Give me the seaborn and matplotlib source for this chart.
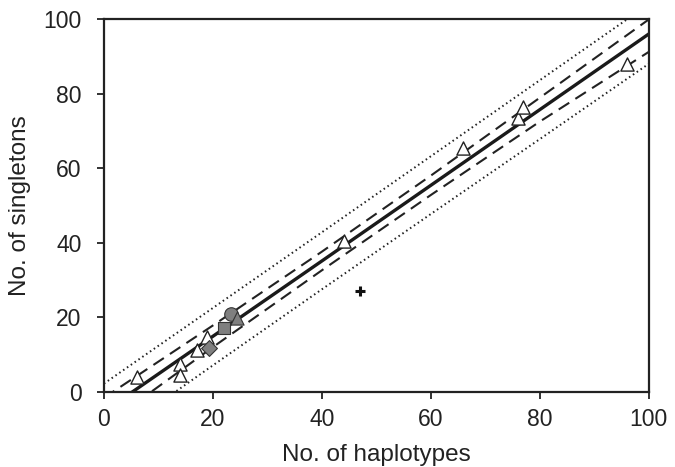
import pandas as pd
import matplotlib
matplotlib.use('Agg')
import matplotlib.pyplot as plt
import seaborn as sns

# open triangles
tri_x = [6, 14, 14, 17, 19, 44, 66, 76, 77, 96]
tri_y = [4, 7.5, 4.5, 11.3, 14.7, 40.5, 65.5, 73.5, 76.5, 88]

# grey filled markers
circ_x, circ_y = [23.3], [20.8]
sq_x, sq_y = [22], [17.2]
dia_x, dia_y = [19.2], [11.8]
gtri_x, gtri_y = [24.4], [19.8]

# outlier (plus sign)
plus_x, plus_y = [47], [27]

# regression line, confidence band (dashed), prediction band (dotted)
band_x = [0, 20, 40, 60, 80, 100]
fit_y = [-5.3, 14.9, 35.1, 55.4, 75.7, 96.0]
ci_upper = [-1.6, 17.8, 37.6, 58.0, 78.9, 99.9]
ci_lower = [-9.2, 12.0, 32.6, 52.8, 72.5, 91.2]
pi_upper = [2.2, 22.5, 42.8, 63.2, 83.6, 104.0]
pi_lower = [-13.5, 7.1, 27.5, 47.7, 67.8, 88.0]

sns.set_style('ticks')
plt.rcParams['font.family'] = ['Liberation Sans', 'DejaVu Sans']

fig = plt.figure(figsize=(6.75, 4.67), dpi=100)
ax = fig.add_axes([0.154, 0.161, 0.807, 0.798])

df = pd.DataFrame({'x': band_x, 'fit': fit_y, 'ciu': ci_upper, 'cil': ci_lower,
                   'piu': pi_upper, 'pil': pi_lower})

sns.lineplot(data=df, x='x', y='piu', ax=ax, color='#222222', lw=1.4, linestyle=(0, (0.8, 1.6)))
sns.lineplot(data=df, x='x', y='pil', ax=ax, color='#222222', lw=1.4, linestyle=(0, (0.8, 1.6)))
sns.lineplot(data=df, x='x', y='ciu', ax=ax, color='#222222', lw=1.5, linestyle=(0, (6, 3.5)))
sns.lineplot(data=df, x='x', y='cil', ax=ax, color='#222222', lw=1.5, linestyle=(0, (6, 3.5)))
sns.lineplot(data=df, x='x', y='fit', ax=ax, color='#1a1a1a', lw=2.4)

sns.scatterplot(x=tri_x, y=tri_y, ax=ax, marker='^', s=90, facecolor='white',
                edgecolor='#222222', linewidth=1.0, zorder=3)
sns.scatterplot(x=dia_x, y=dia_y, ax=ax, marker='D', s=65, color='#7f7f7f',
                edgecolor='#333333', linewidth=0.8, zorder=4)
sns.scatterplot(x=sq_x, y=sq_y, ax=ax, marker='s', s=85, color='#7f7f7f',
                edgecolor='#333333', linewidth=0.8, zorder=4)
sns.scatterplot(x=circ_x, y=circ_y, ax=ax, marker='o', s=95, color='#7f7f7f',
                edgecolor='#333333', linewidth=0.8, zorder=4)
sns.scatterplot(x=gtri_x, y=gtri_y, ax=ax, marker='^', s=90, color='#7f7f7f',
                edgecolor='#333333', linewidth=0.8, zorder=5)
sns.scatterplot(x=plus_x, y=plus_y, ax=ax, marker='+', s=60, color='#111111',
                linewidth=2.2, zorder=4)

ax.set_xlim(0, 100)
ax.set_ylim(0, 100)
ax.set_xticks([0, 20, 40, 60, 80, 100])
ax.set_yticks([0, 20, 40, 60, 80, 100])
ax.tick_params(direction='out', length=5, width=1.3, labelsize=16.5, colors='#222222')
ax.tick_params(axis='y', pad=11)
ax.tick_params(axis='x', pad=7)
for sp in ax.spines.values():
    sp.set_linewidth(1.6)
    sp.set_color('#222222')
ax.set_xlabel('No. of haplotypes', fontsize=17.5, color='#222222', labelpad=9)
ax.set_ylabel('No. of singletons', fontsize=17.5, color='#222222', labelpad=9)

fig.savefig('out.png', dpi=100)
